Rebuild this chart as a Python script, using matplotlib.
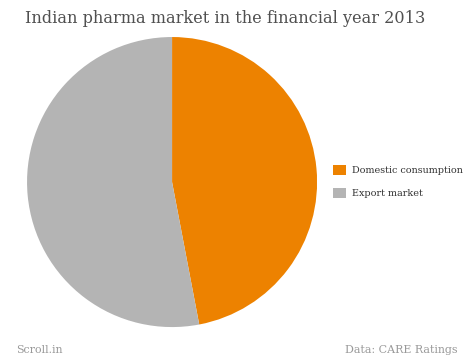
import matplotlib
matplotlib.use("Agg")
import matplotlib.pyplot as plt
from matplotlib.patches import Patch

labels = ["Domestic consumption", "Export market"]
shares = [47, 53]
colors = ["#ED8200", "#B4B4B4"]

plt.rcParams["font.family"] = ["DejaVu Serif"]

fig = plt.figure(figsize=(4.74, 3.63), dpi=100)
fig.patch.set_facecolor("white")

# title
fig.text(0.053, 0.948, "Indian pharma market in the financial year 2013",
         fontsize=11.6, color="#505050", ha="left", va="center")

# pie
ax = fig.add_axes([0.057, 0.099, 0.612, 0.799])
ax.pie(shares, colors=colors, startangle=90, counterclock=False,
       wedgeprops={"linewidth": 0})
ax.set_xlim(-1, 1)
ax.set_ylim(-1, 1)
ax.set_aspect("equal")

# legend
handles = [Patch(facecolor=c, edgecolor="none") for c in colors]
fig.legend(handles, labels, loc="center left", bbox_to_anchor=(0.685, 0.50),
           frameon=False, fontsize=6.9, handlelength=1.35, handleheight=1.35,
           handletextpad=0.6, labelspacing=1.3, labelcolor="#333333")

# footer
fig.text(0.035, 0.035, "Scroll.in", fontsize=7.9, color="#999999",
         ha="left", va="center")
fig.text(0.965, 0.035, "Data: CARE Ratings", fontsize=7.9, color="#999999",
         ha="right", va="center")

fig.savefig("out.png", dpi=100)
